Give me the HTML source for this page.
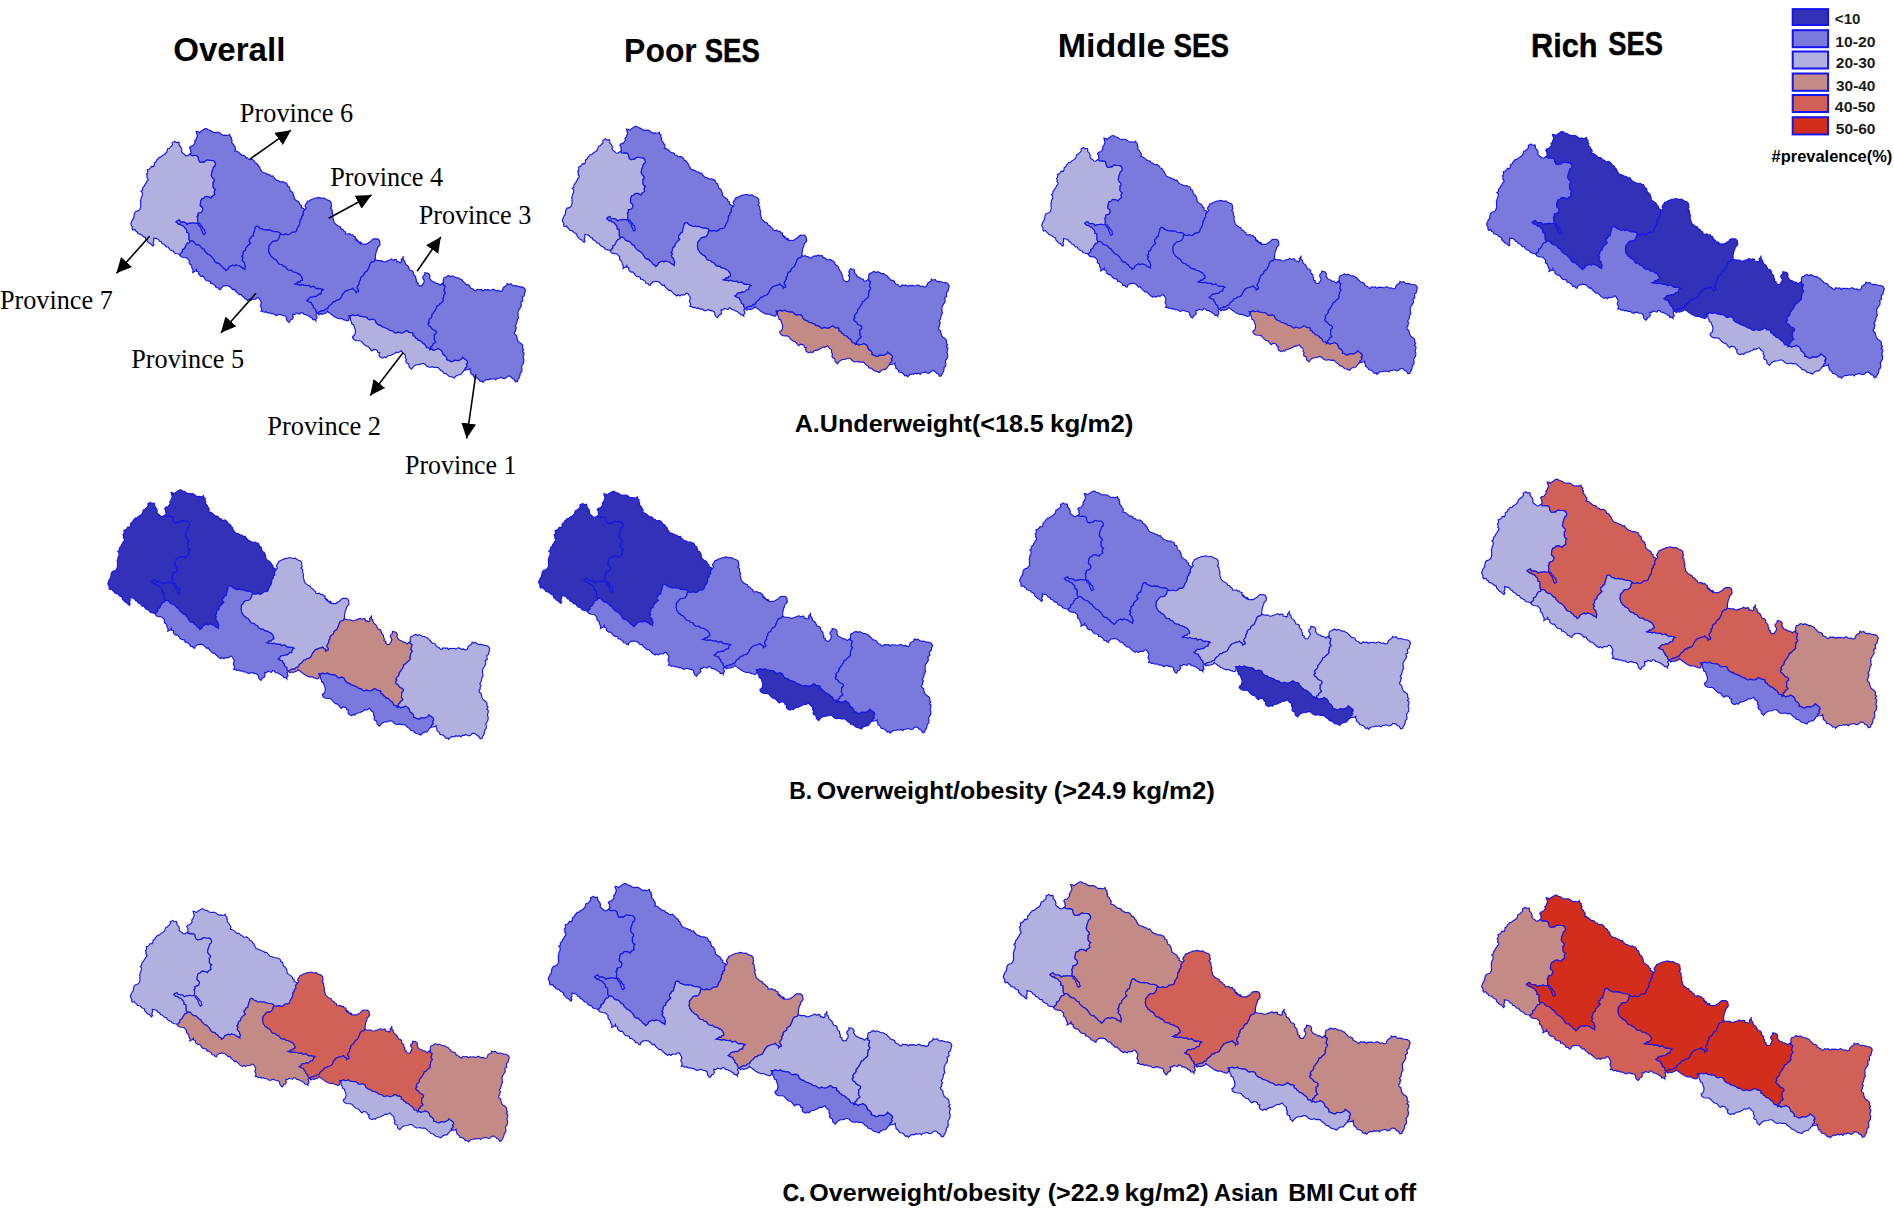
<!DOCTYPE html>
<html><head><meta charset="utf-8"><title>Figure</title>
<style>html,body{margin:0;padding:0;background:#fff}svg{display:block}
.h{font-family:"Liberation Sans",sans-serif;font-weight:bold;fill:#000}
.s{font-family:"Liberation Serif",serif;fill:#000}
.pv{stroke:#1616e4;stroke-width:1.15;stroke-linejoin:miter}
.ar{stroke:#000;stroke-width:1.6;fill:none}
</style></head><body>
<svg width="1894" height="1208" viewBox="0 0 1894 1208">
<rect width="1894" height="1208" fill="#fff"/>
<defs>
<path id="p7" d="M58.2,25.1 56.9,25.9 55.5,26.8 53.8,26.6 52.7,25.3 51.3,24.5 49.8,22.9 50.1,20.7 49.4,18.9 48.5,17.6 47.3,16.4 47.5,14.7 46.9,13.3 44.7,13.8 43.1,12.4 41.9,13.3 40.5,13.9 40.7,15.7 40.0,17.1 38.6,18.3 37.7,19.4 36.0,19.9 35.5,21.4 35.0,23.3 33.8,24.6 32.3,25.7 30.5,26.8 29.1,28.2 27.4,28.3 26.5,29.7 25.3,30.7 24.7,32.4 22.8,33.6 22.8,35.7 22.1,37.4 19.8,37.2 19.0,38.8 17.6,40.1 15.8,40.6 16.2,42.2 16.0,43.7 14.9,45.0 15.8,46.3 15.3,48.1 16.5,49.3 16.4,51.0 15.0,52.2 14.6,53.7 13.5,54.8 13.1,56.3 12.0,57.4 11.1,58.8 11.1,60.7 9.5,61.8 10.8,63.0 10.9,64.5 10.8,66.1 9.8,67.6 9.6,69.5 8.9,71.1 9.4,72.7 9.1,74.4 9.5,76.0 9.0,77.9 8.2,79.8 6.5,81.1 4.4,81.6 3.2,83.1 2.8,84.8 2.5,86.6 2.4,88.2 1.1,89.3 0.6,90.8 0.0,92.2 -0.6,93.8 -0.1,95.3 0.9,96.8 0.6,98.4 1.4,100.0 3.6,99.4 4.4,100.9 5.8,101.8 6.6,103.4 8.2,104.0 9.9,104.3 10.8,105.6 12.0,106.5 14.0,107.3 14.3,109.6 15.8,110.8 17.1,112.5 19.0,113.3 20.2,114.7 21.5,115.8 22.4,114.2 21.4,112.5 22.3,111.0 22.2,109.4 22.2,107.7 23.7,108.2 25.3,108.3 26.9,109.3 27.9,111.0 29.8,111.5 30.4,113.3 32.3,113.9 33.6,115.2 34.6,116.5 36.7,116.6 37.4,118.3 38.6,119.5 40.2,120.2 41.8,120.8 42.5,122.4 44.0,123.0 45.6,123.3 47.0,123.5 48.1,124.5 49.0,122.8 50.6,121.6 50.6,119.3 52.5,118.3 53.4,117.0 53.9,115.4 54.8,114.1 55.6,112.8 57.7,112.4 58.2,110.8 57.2,109.4 57.1,107.8 57.1,106.2 57.0,104.6 57.0,102.9 54.9,102.2 55.0,100.5 54.4,99.0 53.2,98.0 52.4,96.6 51.0,95.7 49.4,95.3 48.5,93.9 46.6,94.0 45.5,92.9 44.3,91.9 45.7,90.7 47.5,90.0 48.3,91.4 49.5,92.2 51.3,92.2 52.9,92.3 54.2,93.1 55.1,94.4 56.8,93.4 58.9,93.4 60.7,92.8 62.7,93.2 65.0,93.3 66.4,93.3 67.7,93.4 68.6,95.2 70.3,96.5 70.9,98.4 72.7,99.5 72.8,101.5 73.6,103.1 71.8,104.5 70.7,103.0 70.2,101.2 69.3,99.7 69.2,97.8 67.9,96.6 66.7,95.3 66.2,93.7 65.6,92.2 65.8,89.7 65.8,88.1 65.2,86.6 66.4,85.6 66.1,83.6 67.7,82.9 69.4,82.4 70.3,81.2 70.9,79.8 70.7,78.1 69.7,77.0 68.4,76.0 68.4,74.4 68.6,72.7 69.0,71.1 69.7,69.3 71.7,68.8 72.8,67.3 74.6,66.8 76.1,67.1 77.7,67.7 79.1,68.6 79.9,66.9 81.4,65.9 82.9,64.9 82.2,63.1 82.4,61.4 83.6,59.9 82.1,59.0 81.2,57.8 81.0,56.2 81.2,54.6 81.0,53.0 82.3,51.8 82.1,50.0 80.8,48.8 79.8,47.5 79.2,45.8 79.6,44.3 79.9,42.8 80.4,41.3 81.0,39.7 81.4,38.0 82.9,36.9 83.6,35.0 82.9,33.2 81.5,31.4 79.1,31.3 77.2,31.1 75.3,30.7 73.9,31.3 72.7,32.7 70.9,32.6 69.3,33.3 67.7,32.6 67.0,31.2 66.4,29.8 66.5,28.2 64.9,26.7 62.7,26.3 61.0,26.6 59.5,26.4 58.2,25.1Z"/>
<path id="p6" d="M58.2,25.1 59.4,23.8 58.7,22.2 58.9,20.8 57.6,18.9 58.8,17.4 60.8,17.0 62.1,15.5 63.3,13.9 62.8,12.0 64.2,10.6 64.6,8.9 65.5,7.3 65.1,5.8 64.7,4.3 64.2,2.7 66.1,2.9 67.7,4.0 69.2,2.5 70.9,1.5 72.6,0.1 74.7,0.0 75.9,1.2 77.6,1.5 79.1,2.1 80.8,3.5 82.9,4.0 84.7,3.8 86.4,3.8 88.0,4.6 89.5,5.8 91.0,6.7 93.1,6.5 94.6,6.9 96.1,6.6 97.5,5.8 97.9,7.7 99.4,8.9 98.9,10.4 100.0,11.8 99.4,13.3 100.2,14.6 101.3,15.6 101.9,17.0 103.1,18.6 103.3,20.2 102.6,22.0 104.2,22.2 105.7,22.8 107.0,23.9 108.3,25.0 109.5,26.3 111.4,26.3 112.8,27.1 113.5,28.7 115.2,28.8 116.4,30.2 117.9,30.5 119.7,30.1 120.9,31.1 122.2,32.2 122.8,33.8 124.3,34.4 125.4,35.4 126.0,36.9 127.3,37.8 127.5,39.5 128.5,40.6 129.3,42.3 130.6,43.2 132.3,43.7 134.0,44.3 135.6,45.3 137.4,45.6 138.3,46.9 140.4,46.6 141.2,48.1 142.5,49.4 143.7,50.8 145.6,51.2 147.2,52.2 148.9,52.5 150.7,52.4 152.0,53.2 153.6,53.6 154.5,54.9 154.8,56.5 156.5,57.2 157.0,58.6 157.4,60.2 157.9,61.7 159.5,62.4 160.4,64.0 161.0,65.6 161.4,67.3 161.5,69.1 162.8,70.1 164.0,71.1 165.5,71.9 166.7,73.1 167.1,74.8 168.7,75.6 168.6,77.8 170.3,78.5 172.2,79.8 170.7,81.4 170.3,83.5 170.6,85.3 168.8,86.7 169.0,88.5 167.5,89.8 167.5,91.7 167.1,93.4 166.6,95.2 165.4,96.7 164.6,98.4 164.1,100.1 163.3,101.5 161.4,102.1 159.3,102.1 157.9,103.5 156.4,104.6 154.7,104.6 153.0,103.8 151.3,104.6 149.7,104.4 148.1,104.0 147.0,102.5 145.5,101.8 143.7,101.5 142.0,101.6 140.4,101.1 138.8,100.5 137.4,99.7 135.8,100.2 134.2,99.5 132.6,100.1 131.1,99.7 129.3,98.8 127.3,98.2 126.0,96.5 124.2,96.1 122.8,97.2 122.7,98.9 122.1,100.5 121.6,102.1 121.1,104.0 120.9,105.9 119.1,106.3 118.5,108.1 117.1,109.0 117.0,111.1 118.4,112.7 117.1,113.9 115.8,115.1 114.6,116.4 113.5,117.8 113.3,119.9 111.4,120.8 110.9,122.5 110.8,124.3 109.5,125.7 110.9,127.2 109.8,129.2 110.8,130.7 112.2,132.1 112.5,134.0 113.3,135.7 112.6,137.2 112.7,138.8 111.3,137.8 109.7,137.2 108.4,136.0 107.0,135.1 105.4,134.8 103.9,134.2 102.2,135.4 100.7,134.4 98.7,135.3 96.9,136.3 96.2,137.9 95.1,139.1 93.7,140.0 93.0,138.5 91.4,137.8 90.4,136.6 89.5,135.2 88.0,134.4 86.8,132.7 84.6,132.5 82.9,131.3 82.3,129.8 81.3,128.4 80.4,127.0 79.2,126.0 78.1,124.8 76.5,124.3 75.3,123.3 74.1,122.0 72.8,120.8 72.2,118.9 70.3,118.3 69.3,117.0 68.2,115.8 67.0,114.8 65.2,114.6 63.4,113.7 62.3,112.0 60.8,110.8 58.2,110.8 57.2,109.4 57.1,107.8 57.1,106.2 57.0,104.6 57.0,102.9 54.9,102.2 55.0,100.5 54.4,99.0 53.2,98.0 52.4,96.6 51.0,95.7 49.4,95.3 48.5,93.9 46.6,94.0 45.5,92.9 44.3,91.9 45.7,90.7 47.5,90.0 48.3,91.4 49.5,92.2 51.3,92.2 52.9,92.3 54.2,93.1 55.1,94.4 56.8,93.4 58.9,93.4 60.7,92.8 62.7,93.2 65.0,93.3 66.4,93.3 67.7,93.4 68.6,95.2 70.3,96.5 70.9,98.4 72.7,99.5 72.8,101.5 73.6,103.1 71.8,104.5 70.7,103.0 70.2,101.2 69.3,99.7 69.2,97.8 67.9,96.6 66.7,95.3 66.2,93.7 65.6,92.2 65.8,89.7 65.8,88.1 65.2,86.6 66.4,85.6 66.1,83.6 67.7,82.9 69.4,82.4 70.3,81.2 70.9,79.8 70.7,78.1 69.7,77.0 68.4,76.0 68.4,74.4 68.6,72.7 69.0,71.1 69.7,69.3 71.7,68.8 72.8,67.3 74.6,66.8 76.1,67.1 77.7,67.7 79.1,68.6 79.9,66.9 81.4,65.9 82.9,64.9 82.2,63.1 82.4,61.4 83.6,59.9 82.1,59.0 81.2,57.8 81.0,56.2 81.2,54.6 81.0,53.0 82.3,51.8 82.1,50.0 80.8,48.8 79.8,47.5 79.2,45.8 79.6,44.3 79.9,42.8 80.4,41.3 81.0,39.7 81.4,38.0 82.9,36.9 83.6,35.0 82.9,33.2 81.5,31.4 79.1,31.3 77.2,31.1 75.3,30.7 73.9,31.3 72.7,32.7 70.9,32.6 69.3,33.3 67.7,32.6 67.0,31.2 66.4,29.8 66.5,28.2 64.9,26.7 62.7,26.3 61.0,26.6 59.5,26.4 58.2,25.1Z"/>
<path id="p5" d="M48.1,124.5 49.1,126.1 50.7,126.7 52.5,127.0 54.8,127.3 56.3,128.9 57.5,130.1 57.3,131.7 57.6,133.2 59.2,134.2 59.8,135.8 60.1,137.5 61.3,139.5 60.8,141.7 62.3,141.0 63.7,140.2 64.6,138.8 64.7,140.6 66.8,141.3 66.6,143.2 67.7,144.4 69.1,145.5 71.1,145.4 72.2,146.9 73.2,148.5 74.6,149.7 76.6,150.0 78.2,150.5 78.6,152.6 80.5,152.6 81.7,153.7 83.2,154.7 84.0,156.6 86.1,156.8 87.0,158.3 88.6,158.7 88.9,157.1 90.2,156.1 91.2,154.9 92.6,155.0 94.1,154.6 95.6,154.9 97.2,155.3 98.3,156.3 99.4,157.4 100.4,158.6 102.5,158.3 103.2,159.9 104.4,161.2 105.8,162.3 107.0,163.6 109.0,163.6 110.1,165.0 111.4,166.1 112.5,167.4 113.9,168.2 115.2,169.2 116.5,168.0 118.5,169.3 119.7,168.0 121.5,168.1 123.3,168.1 124.7,166.7 126.3,166.7 127.3,168.0 128.1,169.5 129.0,171.1 128.5,173.0 128.0,174.7 129.0,176.4 129.3,178.1 128.5,179.8 130.2,179.8 131.8,181.0 133.6,180.4 135.0,181.6 137.1,181.2 138.7,182.3 140.8,182.2 142.5,183.5 144.2,184.1 145.8,183.2 147.5,182.9 149.3,183.9 151.3,184.1 152.9,184.9 153.7,186.1 153.8,187.9 154.8,189.7 156.4,191.0 157.3,189.8 157.9,188.3 159.5,187.9 160.6,186.3 160.2,184.6 160.2,182.9 161.9,183.3 163.5,181.7 165.2,182.3 167.0,182.8 168.5,181.0 170.3,181.7 171.4,183.1 173.3,183.2 174.7,184.1 176.4,184.7 177.6,185.9 179.2,186.6 179.9,188.2 182.0,188.1 183.0,189.4 182.9,187.7 184.2,186.6 183.7,184.7 183.0,182.9 184.9,181.9 183.8,180.8 182.9,179.6 183.0,177.9 181.6,177.1 180.5,175.9 180.4,174.2 179.0,173.0 178.5,171.1 176.9,170.8 175.4,170.2 174.1,169.2 175.7,168.4 176.6,166.7 178.1,166.0 179.8,166.1 181.3,165.2 183.0,165.5 184.5,164.4 185.9,163.0 188.0,163.0 188.4,161.3 188.9,159.6 190.6,158.7 189.0,157.8 187.2,157.7 185.5,157.4 183.7,157.6 182.3,156.5 181.0,155.2 179.2,155.6 177.4,156.0 176.1,154.3 174.4,154.8 172.8,154.3 171.3,154.2 169.7,153.4 168.1,154.1 166.5,153.7 164.6,153.4 162.7,153.1 164.2,152.4 165.2,151.2 167.1,151.5 168.1,149.7 169.7,149.4 169.7,147.5 168.8,145.9 167.8,144.4 166.7,143.3 165.1,142.9 164.0,141.9 162.2,141.3 160.2,141.0 158.9,139.4 157.0,139.5 155.2,139.0 153.8,137.5 152.7,135.9 150.6,135.4 149.4,133.8 147.6,133.6 146.0,132.9 145.0,131.3 144.2,129.8 142.9,128.7 141.2,128.2 140.4,126.8 138.7,126.0 138.0,124.5 136.9,123.0 136.4,121.3 136.1,119.5 136.5,117.9 136.3,116.1 137.4,114.6 138.6,113.2 139.6,111.7 141.2,110.8 143.3,110.8 145.0,110.0 146.2,108.3 147.0,106.9 147.0,105.3 148.1,104.0 147.0,102.5 145.5,101.8 143.7,101.5 142.0,101.6 140.4,101.1 138.8,100.5 137.4,99.7 135.8,100.2 134.2,99.5 132.6,100.1 131.1,99.7 129.3,98.8 127.3,98.2 126.0,96.5 124.2,96.1 122.8,97.2 122.7,98.9 122.1,100.5 121.6,102.1 121.1,104.0 120.9,105.9 119.1,106.3 118.5,108.1 117.1,109.0 117.0,111.1 118.4,112.7 117.1,113.9 115.8,115.1 114.6,116.4 113.5,117.8 113.3,119.9 111.4,120.8 110.9,122.5 110.8,124.3 109.5,125.7 110.9,127.2 109.8,129.2 110.8,130.7 112.2,132.1 112.5,134.0 113.3,135.7 112.6,137.2 112.7,138.8 111.3,137.8 109.7,137.2 108.4,136.0 107.0,135.1 105.4,134.8 103.9,134.2 102.2,135.4 100.7,134.4 98.7,135.3 96.9,136.3 96.2,137.9 95.1,139.1 93.7,140.0 93.0,138.5 91.4,137.8 90.4,136.6 89.5,135.2 88.0,134.4 86.8,132.7 84.6,132.5 82.9,131.3 82.3,129.8 81.3,128.4 80.4,127.0 79.2,126.0 78.1,124.8 76.5,124.3 75.3,123.3 74.1,122.0 72.8,120.8 72.2,118.9 70.3,118.3 69.3,117.0 68.2,115.8 67.0,114.8 65.2,114.6 63.4,113.7 62.3,112.0 60.8,110.8 58.2,110.8 57.7,112.4 55.6,112.8 54.8,114.1 53.9,115.4 53.4,117.0 52.5,118.3 50.6,119.3 50.6,121.6 49.0,122.8 48.1,124.5Z"/>
<path id="p4" d="M172.2,79.8 173.4,78.2 172.2,76.4 172.8,74.8 173.9,73.4 174.7,71.6 176.6,71.1 178.2,70.0 180.0,69.4 181.7,68.6 183.6,68.5 185.5,67.8 187.4,68.3 189.3,68.8 191.5,68.4 193.1,69.8 195.0,70.5 196.9,71.2 198.2,72.9 198.2,74.8 198.7,76.8 197.5,78.5 199.1,79.9 199.2,81.7 199.4,83.5 200.2,85.1 199.7,86.8 200.1,88.5 200.6,90.1 200.9,92.0 202.0,93.4 203.5,94.7 205.1,95.9 207.0,96.5 207.7,98.5 209.7,99.3 210.8,100.9 212.3,101.7 212.7,103.7 214.6,104.0 216.4,103.5 217.9,104.9 219.7,104.6 220.4,106.0 222.3,106.6 222.0,108.7 223.5,109.6 224.3,111.1 225.9,111.7 227.0,112.8 228.6,113.3 227.7,111.8 225.6,111.9 224.8,110.3 223.5,109.3 222.2,108.3 223.0,110.1 224.8,110.8 226.1,112.4 227.8,113.5 229.8,113.9 231.6,113.7 233.4,113.9 234.9,112.7 236.4,111.9 237.7,110.9 238.7,109.6 240.5,108.6 242.5,108.7 244.2,108.6 245.4,109.5 246.3,110.8 246.4,112.5 246.7,114.2 245.6,115.8 244.2,117.2 243.9,119.1 243.1,120.8 242.6,122.4 242.4,124.0 242.0,125.6 242.1,127.2 241.9,128.9 240.9,130.9 238.7,131.3 237.3,132.5 236.6,134.0 236.2,135.7 235.5,137.1 234.8,138.6 234.3,140.0 232.5,141.0 231.1,142.5 230.5,144.6 228.6,145.6 227.3,147.1 227.3,149.2 226.0,150.6 226.2,152.6 225.2,154.1 224.1,155.6 224.1,157.3 225.5,158.7 225.4,160.5 223.9,160.7 222.9,161.8 222.6,159.8 220.7,158.9 219.7,157.4 218.1,158.3 216.3,158.7 214.6,159.3 213.2,159.8 211.8,160.5 210.8,161.8 209.8,163.1 208.9,164.5 208.3,166.1 207.1,167.9 205.3,168.8 203.2,169.2 202.2,170.5 200.4,170.5 199.4,171.7 198.4,173.2 196.8,174.1 195.6,175.4 194.7,177.4 192.5,177.9 191.3,179.4 189.7,179.6 188.0,179.8 186.3,180.6 184.9,181.9 183.8,180.8 182.9,179.6 183.0,177.9 181.6,177.1 180.5,175.9 180.4,174.2 179.0,173.0 178.5,171.1 176.9,170.8 175.4,170.2 174.1,169.2 175.7,168.4 176.6,166.7 178.1,166.0 179.8,166.1 181.3,165.2 183.0,165.5 184.5,164.4 185.9,163.0 188.0,163.0 188.4,161.3 188.9,159.6 190.6,158.7 189.0,157.8 187.2,157.7 185.5,157.4 183.7,157.6 182.3,156.5 181.0,155.2 179.2,155.6 177.4,156.0 176.1,154.3 174.4,154.8 172.8,154.3 171.3,154.2 169.7,153.4 168.1,154.1 166.5,153.7 164.6,153.4 162.7,153.1 164.2,152.4 165.2,151.2 167.1,151.5 168.1,149.7 169.7,149.4 169.7,147.5 168.8,145.9 167.8,144.4 166.7,143.3 165.1,142.9 164.0,141.9 162.2,141.3 160.2,141.0 158.9,139.4 157.0,139.5 155.2,139.0 153.8,137.5 152.7,135.9 150.6,135.4 149.4,133.8 147.6,133.6 146.0,132.9 145.0,131.3 144.2,129.8 142.9,128.7 141.2,128.2 140.4,126.8 138.7,126.0 138.0,124.5 136.9,123.0 136.4,121.3 136.1,119.5 136.5,117.9 136.3,116.1 137.4,114.6 138.6,113.2 139.6,111.7 141.2,110.8 143.3,110.8 145.0,110.0 146.2,108.3 147.0,106.9 147.0,105.3 148.1,104.0 149.7,104.4 151.3,104.6 153.0,103.8 154.7,104.6 156.4,104.6 157.9,103.5 159.3,102.1 161.4,102.1 163.3,101.5 164.1,100.1 164.6,98.4 165.4,96.7 166.6,95.2 167.1,93.4 167.5,91.7 167.5,89.8 169.0,88.5 168.8,86.7 170.6,85.3 170.3,83.5 170.7,81.4 172.2,79.8Z"/>
<path id="p3" d="M241.9,128.9 243.2,129.6 244.7,130.0 246.3,130.1 248.1,130.1 249.7,131.0 251.3,131.3 253.0,130.6 254.7,130.0 256.4,129.5 258.0,128.5 259.9,129.8 261.5,128.9 263.1,129.2 263.5,131.3 265.3,131.3 266.7,132.1 268.1,131.1 267.7,129.0 269.2,127.5 269.8,125.7 269.6,127.4 269.7,129.1 271.1,130.4 271.4,132.0 272.2,133.8 273.7,134.8 274.8,135.9 275.4,137.5 276.4,139.5 278.6,140.0 279.7,141.3 279.7,143.0 280.5,144.4 282.0,145.7 282.1,147.7 283.0,149.4 282.5,151.1 284.6,152.1 284.3,153.7 286.0,154.9 288.1,154.9 289.0,153.4 290.0,151.8 290.6,150.2 290.1,148.7 289.0,147.2 289.3,145.6 291.0,144.1 291.2,141.9 292.8,142.2 294.4,142.5 295.7,143.7 296.2,145.1 295.7,146.9 296.6,148.4 297.6,150.0 299.1,150.7 300.7,151.3 302.0,152.5 303.8,152.4 305.1,153.4 306.4,154.3 307.8,152.8 309.6,151.8 309.3,153.7 311.4,154.9 310.9,156.8 310.4,158.4 310.2,159.9 311.6,161.5 310.9,163.0 309.7,164.4 309.8,166.0 309.1,167.5 309.6,169.2 308.6,170.8 307.2,171.9 305.8,173.0 305.0,174.3 303.1,174.9 302.8,176.6 302.0,177.9 301.3,179.3 300.2,180.5 299.5,181.9 298.2,182.9 298.2,185.0 297.2,186.6 295.7,187.9 294.8,189.4 295.8,191.0 294.3,192.4 295.0,194.1 296.4,194.8 297.5,195.8 298.2,197.2 299.7,198.2 301.5,198.8 302.6,200.3 302.2,202.0 300.5,203.3 300.7,205.3 300.4,207.1 301.0,208.7 302.0,210.2 300.7,211.3 299.2,212.2 298.8,214.0 297.2,214.7 297.1,216.4 296.3,217.7 295.1,216.1 292.8,215.9 291.9,214.0 290.9,212.4 289.3,211.6 288.1,210.2 286.4,208.9 284.3,208.4 283.4,206.9 281.8,206.2 281.1,204.6 279.2,204.0 279.2,201.6 277.3,200.9 275.5,201.0 274.3,199.7 272.9,199.1 271.3,200.2 269.7,201.1 267.8,201.5 266.1,201.1 264.4,200.6 262.7,201.5 260.8,201.1 259.5,199.6 257.7,199.1 255.8,198.6 254.4,197.3 252.6,196.6 250.8,195.9 248.9,195.5 247.5,194.1 245.5,193.6 243.9,192.5 242.5,191.0 241.9,188.9 240.0,187.9 238.3,187.9 236.6,188.4 234.9,187.9 233.6,186.3 232.0,185.3 229.8,185.4 228.1,184.9 226.2,184.8 224.8,183.5 223.1,184.1 221.4,184.3 219.7,183.5 217.9,184.3 215.9,184.4 216.5,186.1 216.0,187.6 215.3,189.1 213.7,189.4 212.3,188.6 210.8,188.5 209.3,187.3 207.6,187.2 205.8,187.3 204.0,186.6 202.3,185.7 200.7,184.8 199.5,183.7 198.0,182.9 196.9,181.7 195.4,181.0 194.4,179.8 193.1,181.6 191.2,182.2 189.3,182.9 187.5,182.3 186.1,183.5 184.9,181.9 186.3,180.6 188.0,179.8 189.7,179.6 191.3,179.4 192.5,177.9 194.7,177.4 195.6,175.4 196.8,174.1 198.4,173.2 199.4,171.7 200.4,170.5 202.2,170.5 203.2,169.2 205.3,168.8 207.1,167.9 208.3,166.1 208.9,164.5 209.8,163.1 210.8,161.8 211.8,160.5 213.2,159.8 214.6,159.3 216.3,158.7 218.1,158.3 219.7,157.4 220.7,158.9 222.6,159.8 222.9,161.8 223.9,160.7 225.4,160.5 225.5,158.7 224.1,157.3 224.1,155.6 225.2,154.1 226.2,152.6 226.0,150.6 227.3,149.2 227.3,147.1 228.6,145.6 230.5,144.6 231.1,142.5 232.5,141.0 234.3,140.0 234.8,138.6 235.5,137.1 236.2,135.7 236.6,134.0 237.3,132.5 238.7,131.3 240.9,130.9 241.9,128.9Z"/>
<path id="p2" d="M215.9,184.4 217.9,184.3 219.7,183.5 221.4,184.3 223.1,184.1 224.8,183.5 226.2,184.8 228.1,184.9 229.8,185.4 232.0,185.3 233.6,186.3 234.9,187.9 236.6,188.4 238.3,187.9 240.0,187.9 241.9,188.9 242.5,191.0 243.9,192.5 245.5,193.6 247.5,194.1 248.9,195.5 250.8,195.9 252.6,196.6 254.4,197.3 255.8,198.6 257.7,199.1 259.5,199.6 260.8,201.1 262.7,201.5 264.4,200.6 266.1,201.1 267.8,201.5 269.7,201.1 271.3,200.2 272.9,199.1 274.3,199.7 275.5,201.0 277.3,200.9 279.2,201.6 279.2,204.0 281.1,204.6 281.8,206.2 283.4,206.9 284.3,208.4 286.4,208.9 288.1,210.2 289.3,211.6 290.9,212.4 291.9,214.0 292.8,215.9 295.1,216.1 296.3,217.7 298.1,217.1 299.5,218.3 301.2,217.7 303.0,217.4 304.5,216.5 305.9,217.4 307.4,218.2 308.3,219.6 308.9,221.0 309.3,222.5 310.9,223.3 312.0,224.5 313.0,225.8 312.8,227.6 314.4,228.0 315.8,228.7 317.2,229.5 319.0,229.4 320.4,228.1 322.3,228.3 324.3,228.5 326.1,227.6 327.7,226.7 328.6,225.1 330.2,226.4 331.8,227.6 333.2,228.9 333.7,230.7 332.3,231.9 333.2,233.7 332.4,235.1 331.2,236.0 331.1,237.6 329.6,238.5 328.6,240.1 327.6,241.2 326.6,242.5 324.8,242.5 323.0,243.2 321.5,244.2 320.4,245.7 318.8,245.0 317.2,244.4 315.1,244.0 313.7,242.6 312.1,241.3 309.9,241.0 308.8,239.2 307.1,238.2 305.6,236.8 304.2,235.3 302.0,235.1 300.4,235.3 298.8,234.5 297.2,234.9 295.7,235.1 294.1,234.5 292.6,233.6 291.5,232.1 289.9,231.4 288.1,231.4 286.5,232.2 284.8,232.5 283.0,232.6 281.4,233.3 280.0,234.2 278.9,235.6 277.9,237.0 276.8,235.9 275.5,234.9 275.4,233.2 274.8,231.5 272.8,230.7 272.2,228.9 273.0,227.2 271.8,225.8 271.9,224.2 271.6,222.7 270.0,221.8 268.9,220.4 267.8,218.9 266.2,219.8 264.6,220.6 262.7,220.2 261.3,221.5 259.4,222.3 257.7,223.3 255.7,223.5 253.9,224.2 252.6,225.8 251.1,225.0 249.3,226.1 247.7,225.5 246.3,224.5 245.6,222.7 246.3,220.8 244.5,220.4 243.9,218.6 242.5,217.7 240.3,217.4 238.7,218.9 237.3,217.6 236.2,216.0 234.9,214.6 232.8,214.2 231.3,212.9 229.8,211.5 228.6,209.8 226.9,209.0 224.8,209.0 222.7,208.8 221.1,208.0 219.7,206.5 219.5,204.7 221.1,203.8 221.8,202.4 222.2,200.9 222.3,198.9 221.8,197.1 221.0,195.3 220.6,193.4 218.6,192.3 218.4,190.4 217.5,189.0 217.2,187.4 217.2,185.6 215.9,184.4Z"/>
<path id="p1" d="M309.6,151.8 309.3,150.1 309.5,148.5 310.2,146.9 312.1,146.5 313.4,145.3 315.1,144.8 316.8,146.0 318.5,145.0 320.4,145.9 322.3,146.9 324.4,146.9 326.1,148.1 327.7,148.7 328.7,150.1 329.9,151.2 330.9,152.3 331.9,153.6 333.7,153.7 335.5,154.8 336.2,156.8 337.6,157.5 339.0,158.0 340.0,159.3 341.8,160.0 343.3,158.2 345.0,158.7 347.2,158.4 348.8,159.9 350.3,158.7 352.2,158.9 353.9,158.7 355.7,159.3 357.4,159.0 359.0,158.1 360.6,158.9 362.1,159.8 364.0,159.3 365.8,160.5 367.8,159.9 368.4,158.3 369.0,156.7 370.4,155.6 372.3,154.6 372.9,152.5 374.4,153.5 376.6,152.8 378.0,154.3 379.5,155.0 381.2,154.7 382.8,155.0 384.3,155.6 386.3,155.9 388.3,156.2 390.0,157.4 391.0,159.3 390.4,161.2 390.0,163.0 389.6,164.8 387.9,166.0 388.1,168.0 388.4,169.8 386.3,171.1 386.8,173.0 386.8,174.8 385.8,176.4 384.9,177.9 383.9,179.4 383.5,181.1 383.7,182.9 383.6,184.6 384.2,186.3 383.0,187.9 382.7,189.5 382.4,191.2 381.8,192.8 380.7,194.4 382.0,196.2 381.1,197.8 381.2,199.5 379.9,201.0 380.5,202.8 382.2,204.0 382.4,206.0 383.0,207.8 383.6,209.4 384.7,210.6 386.2,211.5 387.7,212.8 388.3,214.5 388.1,216.5 389.3,217.8 387.9,219.7 389.5,221.0 389.4,222.7 388.9,224.3 388.6,226.0 389.4,227.6 389.3,229.4 389.0,231.1 388.1,232.6 387.0,234.1 387.4,235.9 387.5,237.6 387.3,239.4 385.8,240.7 385.6,242.5 385.3,244.1 384.7,245.6 383.7,246.9 383.1,248.8 381.1,249.4 380.4,248.0 379.6,246.7 378.0,246.3 376.9,244.8 375.4,243.8 373.1,243.9 371.6,245.7 369.8,246.4 368.2,245.8 366.6,245.0 364.9,245.9 362.8,245.9 361.5,247.5 360.0,246.2 358.1,246.9 356.4,246.3 354.9,247.2 353.1,247.2 351.4,247.5 350.1,248.8 348.8,250.0 348.1,248.5 346.0,248.9 345.0,247.5 343.6,246.1 341.9,245.4 340.0,245.0 339.4,243.4 338.3,242.2 336.8,241.3 336.8,239.6 336.0,238.0 336.2,236.3 334.6,237.1 332.9,237.4 331.1,237.6 331.2,236.0 332.4,235.1 333.2,233.7 332.3,231.9 333.7,230.7 333.2,228.9 331.8,227.6 330.2,226.4 328.6,225.1 327.7,226.7 326.1,227.6 324.3,228.5 322.3,228.3 320.4,228.1 319.0,229.4 317.2,229.5 315.8,228.7 314.4,228.0 312.8,227.6 313.0,225.8 312.0,224.5 310.9,223.3 309.3,222.5 308.9,221.0 308.3,219.6 307.4,218.2 305.9,217.4 304.5,216.5 303.0,217.4 301.2,217.7 299.5,218.3 298.1,217.1 296.3,217.7 297.1,216.4 297.2,214.7 298.8,214.0 299.2,212.2 300.7,211.3 302.0,210.2 301.0,208.7 300.4,207.1 300.7,205.3 300.5,203.3 302.2,202.0 302.6,200.3 301.5,198.8 299.7,198.2 298.2,197.2 297.5,195.8 296.4,194.8 295.0,194.1 294.3,192.4 295.8,191.0 294.8,189.4 295.7,187.9 297.2,186.6 298.2,185.0 298.2,182.9 299.5,181.9 300.2,180.5 301.3,179.3 302.0,177.9 302.8,176.6 303.1,174.9 305.0,174.3 305.8,173.0 307.2,171.9 308.6,170.8 309.6,169.2 309.1,167.5 309.8,166.0 309.7,164.4 310.9,163.0 311.6,161.5 310.2,159.9 310.4,158.4 310.9,156.8 311.4,154.9 309.3,153.7 309.6,151.8Z"/>
<path id="p3b" d="M241.9,128.9 243.2,129.8 245.0,128.9 246.3,130.1 248.1,129.9 249.5,131.4 251.3,131.3 252.9,130.2 254.4,129.3 256.4,129.5 258.0,128.3 259.8,129.2 261.5,128.9 262.9,129.4 263.5,131.3 265.3,131.3 266.8,132.7 268.4,133.5 270.7,132.8 272.2,133.8 273.9,134.5 275.0,135.8 275.4,137.5 277.0,138.8 278.6,140.0 278.8,141.6 279.9,142.9 280.5,144.4 281.8,145.8 282.3,147.6 283.0,149.4 283.2,150.9 283.5,152.3 284.3,153.7 286.0,154.8 288.1,154.9 289.6,153.7 290.0,151.8 290.1,150.3 288.9,148.8 290.2,147.1 289.3,145.6 289.9,143.6 291.2,141.9 292.8,142.3 294.4,142.5 295.1,143.9 294.8,145.5 295.7,146.9 297.1,148.1 297.6,150.0 299.3,150.4 300.8,151.2 302.0,152.5 303.8,152.4 304.6,154.4 306.4,154.3 308.1,153.2 309.6,151.8 309.3,153.7 311.4,154.9 310.9,156.8 310.4,158.4 310.2,159.9 311.6,161.5 310.9,163.0 309.7,164.4 309.8,166.0 309.1,167.5 309.6,169.2 308.6,170.8 307.2,171.9 305.8,173.0 305.0,174.3 303.1,174.9 302.8,176.6 302.0,177.9 301.3,179.3 300.2,180.5 299.5,181.9 298.2,182.9 298.2,185.0 297.2,186.6 295.7,187.9 294.8,189.4 295.8,191.0 294.3,192.4 295.0,194.1 296.4,194.8 297.5,195.8 298.2,197.2 299.7,198.2 301.5,198.8 302.6,200.3 302.2,202.0 300.5,203.3 300.7,205.3 300.4,207.1 301.0,208.7 302.0,210.2 300.7,211.3 299.2,212.2 298.8,214.0 297.2,214.7 297.1,216.4 296.3,217.7 295.1,216.1 292.8,215.9 291.9,214.0 290.9,212.4 289.3,211.6 288.1,210.2 286.4,208.9 284.3,208.4 283.4,206.9 281.8,206.2 281.1,204.6 279.2,204.0 279.2,201.6 277.3,200.9 275.5,201.0 274.3,199.7 272.9,199.1 271.3,200.2 269.7,201.1 267.8,201.5 266.1,201.1 264.4,200.6 262.7,201.5 260.8,201.1 259.5,199.6 257.7,199.1 255.8,198.6 254.4,197.3 252.6,196.6 250.8,195.9 248.9,195.5 247.5,194.1 245.5,193.6 243.9,192.5 242.5,191.0 241.9,188.9 240.0,187.9 238.3,187.9 236.6,188.4 234.9,187.9 233.6,186.3 232.0,185.3 229.8,185.4 228.1,184.9 226.2,184.8 224.8,183.5 223.1,184.1 221.4,184.3 219.7,183.5 217.9,184.3 215.9,184.4 216.5,186.1 216.0,187.6 215.3,189.1 213.7,189.4 212.3,188.6 210.8,188.5 209.3,187.3 207.6,187.2 205.8,187.3 204.0,186.6 202.3,185.7 200.7,184.8 199.5,183.7 198.0,182.9 196.9,181.7 195.4,181.0 194.4,179.8 193.1,181.6 191.2,182.2 189.3,182.9 187.5,182.3 186.1,183.5 184.9,181.9 186.3,180.6 188.0,179.8 189.7,179.6 191.3,179.4 192.5,177.9 194.7,177.4 195.6,175.4 196.8,174.1 198.4,173.2 199.4,171.7 200.4,170.5 202.2,170.5 203.2,169.2 205.3,168.8 207.1,167.9 208.3,166.1 208.9,164.5 209.8,163.1 210.8,161.8 211.8,160.5 213.2,159.8 214.6,159.3 216.3,158.7 218.1,158.3 219.7,157.4 220.7,158.9 222.6,159.8 222.9,161.8 223.9,160.7 225.4,160.5 225.5,158.7 224.1,157.3 224.1,155.6 225.2,154.1 226.2,152.6 226.0,150.6 227.3,149.2 227.3,147.1 228.6,145.6 230.5,144.6 231.1,142.5 232.5,141.0 234.3,140.0 234.8,138.6 235.5,137.1 236.2,135.7 236.6,134.0 237.3,132.5 238.7,131.3 240.9,130.9 241.9,128.9Z"/>
</defs>
<g class="pv" transform="translate(131.40,128.60) scale(1.0079,1.0152)"><use href="#p7" fill="#b1b0df"/><use href="#p6" fill="#7a79dc"/><use href="#p5" fill="#7a79dc"/><use href="#p4" fill="#7a79dc"/><use href="#p3" fill="#7a79dc"/><use href="#p2" fill="#b1b0df"/><use href="#p1" fill="#7a79dc"/></g>
<g class="pv" transform="translate(562.90,126.35) scale(0.9882,1.0022)"><use href="#p7" fill="#b1b0df"/><use href="#p6" fill="#7a79dc"/><use href="#p5" fill="#b1b0df"/><use href="#p4" fill="#7a79dc"/><use href="#p3b" fill="#7a79dc"/><use href="#p2" fill="#c48a85"/><use href="#p1" fill="#7a79dc"/></g>
<g class="pv" transform="translate(1042.20,135.60) scale(0.9597,0.9552)"><use href="#p7" fill="#b1b0df"/><use href="#p6" fill="#7a79dc"/><use href="#p5" fill="#7a79dc"/><use href="#p4" fill="#7a79dc"/><use href="#p3" fill="#7a79dc"/><use href="#p2" fill="#c48a85"/><use href="#p1" fill="#7a79dc"/></g>
<g class="pv" transform="translate(1487.20,131.70) scale(1.0156,0.9864)"><use href="#p7" fill="#7a79dc"/><use href="#p6" fill="#3331b7"/><use href="#p5" fill="#7a79dc"/><use href="#p4" fill="#3331b7"/><use href="#p3" fill="#3331b7"/><use href="#p2" fill="#b1b0df"/><use href="#p1" fill="#7a79dc"/></g>
<g class="pv" transform="translate(108.40,489.85) scale(0.9754,0.9982)"><use href="#p7" fill="#3331b7"/><use href="#p6" fill="#3331b7"/><use href="#p5" fill="#7a79dc"/><use href="#p4" fill="#b1b0df"/><use href="#p3" fill="#c48a85"/><use href="#p2" fill="#7a79dc"/><use href="#p1" fill="#b1b0df"/></g>
<g class="pv" transform="translate(539.20,491.35) scale(1.0059,0.9672)"><use href="#p7" fill="#3331b7"/><use href="#p6" fill="#3331b7"/><use href="#p5" fill="#7a79dc"/><use href="#p4" fill="#7a79dc"/><use href="#p3" fill="#7a79dc"/><use href="#p2" fill="#3331b7"/><use href="#p1" fill="#7a79dc"/></g>
<g class="pv" transform="translate(1020.20,491.10) scale(0.9982,0.9532)"><use href="#p7" fill="#7a79dc"/><use href="#p6" fill="#7a79dc"/><use href="#p5" fill="#7a79dc"/><use href="#p4" fill="#b1b0df"/><use href="#p3" fill="#b1b0df"/><use href="#p2" fill="#3331b7"/><use href="#p1" fill="#b1b0df"/></g>
<g class="pv" transform="translate(1482.20,479.30) scale(1.0131,0.9960)"><use href="#p7" fill="#b1b0df"/><use href="#p6" fill="#d16156"/><use href="#p5" fill="#b1b0df"/><use href="#p4" fill="#d16156"/><use href="#p3" fill="#d16156"/><use href="#p2" fill="#7a79dc"/><use href="#p1" fill="#c48a85"/></g>
<g class="pv" transform="translate(130.90,908.85) scale(0.9677,0.9322)"><use href="#p7" fill="#b1b0df"/><use href="#p6" fill="#b1b0df"/><use href="#p5" fill="#c48a85"/><use href="#p4" fill="#d16156"/><use href="#p3" fill="#d16156"/><use href="#p2" fill="#b1b0df"/><use href="#p1" fill="#c48a85"/></g>
<g class="pv" transform="translate(548.90,883.60) scale(1.0305,1.0152)"><use href="#p7" fill="#7a79dc"/><use href="#p6" fill="#7a79dc"/><use href="#p5" fill="#b1b0df"/><use href="#p4" fill="#c48a85"/><use href="#p3" fill="#b1b0df"/><use href="#p2" fill="#7a79dc"/><use href="#p1" fill="#b1b0df"/></g>
<g class="pv" transform="translate(1003.90,881.85) scale(1.0390,1.0102)"><use href="#p7" fill="#b1b0df"/><use href="#p6" fill="#c48a85"/><use href="#p5" fill="#c48a85"/><use href="#p4" fill="#d16156"/><use href="#p3" fill="#c48a85"/><use href="#p2" fill="#b1b0df"/><use href="#p1" fill="#c48a85"/></g>
<g class="pv" transform="translate(1482.20,895.10) scale(0.9977,0.9708)"><use href="#p7" fill="#c48a85"/><use href="#p6" fill="#d32d1c"/><use href="#p5" fill="#d16156"/><use href="#p4" fill="#d32d1c"/><use href="#p3" fill="#d32d1c"/><use href="#p2" fill="#b1b0df"/><use href="#p1" fill="#d16156"/></g>
<!--TEXT-->
<defs><marker id="ah" markerWidth="16" markerHeight="16" refX="15.2" refY="7.4" orient="auto" markerUnits="userSpaceOnUse"><path d="M0,0 L15.2,7.4 L0,14.8 Z" fill="#000" stroke="none"/></marker></defs>
<g class="ar" marker-end="url(#ah)">
<line x1="249.9" y1="159.1" x2="291" y2="130.2"/>
<line x1="328.7" y1="218.2" x2="371.5" y2="195"/>
<line x1="417.1" y1="271.2" x2="440.8" y2="237"/>
<line x1="149.6" y1="236.3" x2="116.4" y2="273.3"/>
<line x1="256" y1="293.3" x2="220.9" y2="332.8"/>
<line x1="403.2" y1="352.4" x2="370.2" y2="395.5"/>
<line x1="475.8" y1="374.3" x2="466.6" y2="438.5"/>
</g>
<g stroke="#1414ee" stroke-width="2">
<rect x="1792.7" y="9.1" width="35.4" height="15.9" fill="#3331b7"/>
<rect x="1792.7" y="30.2" width="35.4" height="17" fill="#7a79dc"/>
<rect x="1792.7" y="51.5" width="35.4" height="17" fill="#b1b0df"/>
<rect x="1792.7" y="73.5" width="35.4" height="17.3" fill="#c48a85"/>
<rect x="1792.7" y="95" width="35.4" height="17" fill="#d16156"/>
<rect x="1792.7" y="117.2" width="35.4" height="17.2" fill="#d32d1c"/>
</g>
<text x="173.16" y="61.00" style="font-family:'Liberation Sans',sans-serif;font-weight:bold;font-size:33.5px" fill="#000" textLength="112.27" lengthAdjust="spacingAndGlyphs">Overall</text>
<text x="624.11" y="61.50" style="font-family:'Liberation Sans',sans-serif;font-weight:bold;font-size:33.5px" fill="#000" textLength="72.68" lengthAdjust="spacingAndGlyphs">Poor</text>
<text x="704.78" y="61.50" style="font-family:'Liberation Sans',sans-serif;font-weight:bold;font-size:33.5px" fill="#000" stroke="#000" stroke-width="0.45" textLength="55.04" lengthAdjust="spacingAndGlyphs">SES</text>
<text x="1057.71" y="56.50" style="font-family:'Liberation Sans',sans-serif;font-weight:bold;font-size:33.5px" fill="#000" textLength="107.78" lengthAdjust="spacingAndGlyphs">Middle</text>
<text x="1173.57" y="56.50" style="font-family:'Liberation Sans',sans-serif;font-weight:bold;font-size:33.5px" fill="#000" stroke="#000" stroke-width="0.45" textLength="55.60" lengthAdjust="spacingAndGlyphs">SES</text>
<text x="1531.04" y="56.50" style="font-family:'Liberation Sans',sans-serif;font-weight:bold;font-size:33.5px" fill="#000" stroke="#000" stroke-width="0.45" textLength="66.49" lengthAdjust="spacingAndGlyphs">Rich</text>
<text x="1608.18" y="55.20" style="font-family:'Liberation Sans',sans-serif;font-weight:bold;font-size:33.5px" fill="#000" stroke="#000" stroke-width="0.45" textLength="54.78" lengthAdjust="spacingAndGlyphs">SES</text>
<text x="794.74" y="431.50" style="font-family:'Liberation Sans',sans-serif;font-weight:bold;font-size:24.4px" fill="#000" textLength="249.07" lengthAdjust="spacingAndGlyphs">A.Underweight(&lt;18.5</text>
<text x="1050.04" y="431.50" style="font-family:'Liberation Sans',sans-serif;font-weight:bold;font-size:24.4px" fill="#000" textLength="83.40" lengthAdjust="spacingAndGlyphs">kg/m2)</text>
<text x="789.19" y="799.20" style="font-family:'Liberation Sans',sans-serif;font-weight:bold;font-size:24.4px" fill="#000" textLength="22.97" lengthAdjust="spacingAndGlyphs">B.</text>
<text x="816.72" y="799.20" style="font-family:'Liberation Sans',sans-serif;font-weight:bold;font-size:24.4px" fill="#000" textLength="230.78" lengthAdjust="spacingAndGlyphs">Overweight/obesity</text>
<text x="1053.70" y="799.20" style="font-family:'Liberation Sans',sans-serif;font-weight:bold;font-size:24.4px" fill="#000" textLength="72.78" lengthAdjust="spacingAndGlyphs">(&gt;24.9</text>
<text x="1131.90" y="799.20" style="font-family:'Liberation Sans',sans-serif;font-weight:bold;font-size:24.4px" fill="#000" textLength="83.04" lengthAdjust="spacingAndGlyphs">kg/m2)</text>
<text x="782.78" y="1200.50" style="font-family:'Liberation Sans',sans-serif;font-weight:bold;font-size:24.4px" fill="#000" stroke="#000" stroke-width="0.45" textLength="22.44" lengthAdjust="spacingAndGlyphs">C.</text>
<text x="809.37" y="1200.50" style="font-family:'Liberation Sans',sans-serif;font-weight:bold;font-size:24.4px" fill="#000" textLength="231.18" lengthAdjust="spacingAndGlyphs">Overweight/obesity</text>
<text x="1047.71" y="1200.50" style="font-family:'Liberation Sans',sans-serif;font-weight:bold;font-size:24.4px" fill="#000" textLength="71.85" lengthAdjust="spacingAndGlyphs">(&gt;22.9</text>
<text x="1124.42" y="1200.50" style="font-family:'Liberation Sans',sans-serif;font-weight:bold;font-size:24.4px" fill="#000" textLength="84.28" lengthAdjust="spacingAndGlyphs">kg/m2)</text>
<text x="1213.92" y="1200.50" style="font-family:'Liberation Sans',sans-serif;font-weight:bold;font-size:24.4px" fill="#000" textLength="64.26" lengthAdjust="spacingAndGlyphs">Asian</text>
<text x="1288.17" y="1200.50" style="font-family:'Liberation Sans',sans-serif;font-weight:bold;font-size:24.4px" fill="#000" textLength="45.58" lengthAdjust="spacingAndGlyphs">BMI</text>
<text x="1338.51" y="1200.50" style="font-family:'Liberation Sans',sans-serif;font-weight:bold;font-size:24.4px" fill="#000" textLength="40.38" lengthAdjust="spacingAndGlyphs">Cut</text>
<text x="1383.96" y="1200.50" style="font-family:'Liberation Sans',sans-serif;font-weight:bold;font-size:24.4px" fill="#000" textLength="32.34" lengthAdjust="spacingAndGlyphs">off</text>
<text x="239.86" y="121.50" style="font-family:'Liberation Serif',serif;font-size:26.5px" fill="#000" textLength="113.22" lengthAdjust="spacingAndGlyphs">Province 6</text>
<text x="330.26" y="186.00" style="font-family:'Liberation Serif',serif;font-size:26.5px" fill="#000" textLength="112.82" lengthAdjust="spacingAndGlyphs">Province 4</text>
<text x="418.66" y="223.50" style="font-family:'Liberation Serif',serif;font-size:26.5px" fill="#000" textLength="112.66" lengthAdjust="spacingAndGlyphs">Province 3</text>
<text x="-0.04" y="308.50" style="font-family:'Liberation Serif',serif;font-size:26.5px" fill="#000" textLength="112.76" lengthAdjust="spacingAndGlyphs">Province 7</text>
<text x="131.26" y="367.80" style="font-family:'Liberation Serif',serif;font-size:26.5px" fill="#000" textLength="112.81" lengthAdjust="spacingAndGlyphs">Province 5</text>
<text x="267.25" y="434.70" style="font-family:'Liberation Serif',serif;font-size:26.5px" fill="#000" textLength="113.77" lengthAdjust="spacingAndGlyphs">Province 2</text>
<text x="405.07" y="473.80" style="font-family:'Liberation Serif',serif;font-size:26.5px" fill="#000" textLength="111.47" lengthAdjust="spacingAndGlyphs">Province 1</text>
<text x="1834.88" y="24.40" style="font-family:'Liberation Sans',sans-serif;font-weight:bold;font-size:14.5px" fill="#1c1c1c" textLength="25.55" lengthAdjust="spacingAndGlyphs">&lt;10</text>
<text x="1835.22" y="47.30" style="font-family:'Liberation Sans',sans-serif;font-weight:bold;font-size:14.5px" fill="#1c1c1c" textLength="40.23" lengthAdjust="spacingAndGlyphs">10-20</text>
<text x="1835.77" y="68.30" style="font-family:'Liberation Sans',sans-serif;font-weight:bold;font-size:14.5px" fill="#1c1c1c" textLength="39.67" lengthAdjust="spacingAndGlyphs">20-30</text>
<text x="1836.03" y="90.80" style="font-family:'Liberation Sans',sans-serif;font-weight:bold;font-size:14.5px" fill="#1c1c1c" textLength="39.40" lengthAdjust="spacingAndGlyphs">30-40</text>
<text x="1834.83" y="111.60" style="font-family:'Liberation Sans',sans-serif;font-weight:bold;font-size:14.5px" fill="#1c1c1c" textLength="40.62" lengthAdjust="spacingAndGlyphs">40-50</text>
<text x="1835.77" y="134.20" style="font-family:'Liberation Sans',sans-serif;font-weight:bold;font-size:14.5px" fill="#1c1c1c" textLength="39.67" lengthAdjust="spacingAndGlyphs">50-60</text>
<text x="1771.54" y="162.10" style="font-family:'Liberation Sans',sans-serif;font-weight:bold;font-size:16px" fill="#000" textLength="120.77" lengthAdjust="spacingAndGlyphs">#prevalence(%)</text>
</svg>
</body></html>
